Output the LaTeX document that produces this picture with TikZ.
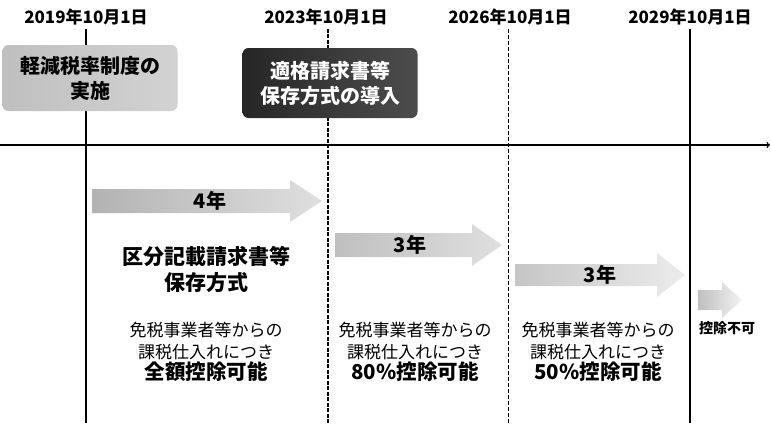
\documentclass[tikz,border=0pt]{standalone}
\usepackage{fontspec}
\setmainfont{Noto Sans CJK JP}
\usetikzlibrary{positioning}
\newcommand{\amount}[1]{{\fontsize{20.5}{20.5}\selectfont\bfseries #1}}

\begin{document}
\begin{tikzpicture}[x=1pt,y=-1pt,
    date/.style={font=\fontsize{17}{17}\selectfont\bfseries},
    eventbox/.style={rounded corners=6pt,minimum width=175pt,align=center,
        font=\fontsize{20}{25}\selectfont\bfseries},
    span/.style={font=\fontsize{20}{20}\selectfont\bfseries},
    note/.style={align=center,font=\fontsize{17}{22}\selectfont},
    big/.style={font=\fontsize{21}{21}\selectfont\bfseries}]
    \useasboundingbox (0,0) rectangle (771,423);
    % dates and vertical lines
    \node[date] (d19) at (86,17) {2019年10月1日};
    \node[date] (d23) at (326,17) {2023年10月1日};
    \node[date] (d26) at (510,17) {2026年10月1日};
    \node[date] (d29) at (690,17) {2029年10月1日};
    \coordinate (b19) at (86,423);
    \coordinate (b23) at (328,423);
    \coordinate (b26) at (508,423);
    \coordinate (b29) at (690,423);
    \draw [line width=1.4pt] (d19.south -| b19) -- (b19);
    \draw [line width=1.3pt,dash pattern=on 4pt off 1.5pt] (d23.south -| b23) -- (b23);
    \draw [line width=1pt,dash pattern=on 4pt off 2pt] (d26.south -| b26) -- (b26);
    \draw [line width=1.4pt] (d29.south -| b29) -- (b29);
    % time axis
    \coordinate (t0) at (0,145);
    \coordinate (t1) at (770,145);
    \draw [->,line width=1.3pt] (t0) -- (t1);
    % events
    \node[eventbox,left color=gray!50,right color=gray!35,minimum height=66pt] (rate) at (90,78) {軽減税率制度の\\実施};
    \node[eventbox,left color=black!85,right color=black!70,text=white,minimum height=70pt] (invoice) at (330,83) {適格請求書等\\保存方式の導入};
    % periods
    \shade[left color=gray!60,right color=gray!25] (92,189) -- (290,189) -- (290,180) -- (322,201)
        -- (290,222) -- (290,213) -- (92,213) -- cycle;
    \node[span] (p1) at (210,201) {4年};
    \shade[left color=gray!50,right color=gray!25] (335,233) -- (472,233) -- (472,224) -- (502,245)
        -- (472,266) -- (472,257) -- (335,257) -- cycle;
    \node[span] (p2) at (410,245) {3年};
    \shade[left color=gray!45,right color=gray!15] (515,264) -- (657,264) -- (657,253) -- (685,275)
        -- (657,297) -- (657,286) -- (515,286) -- cycle;
    \node[span] (p3) at (600,275) {3年};
    \shade[left color=gray!50,right color=gray!10] (698,290) -- (722,290) -- (722,282) -- (742,300)
        -- (722,318) -- (722,310) -- (698,310) -- cycle;
    % rules
    \node[big,align=center] (kubun) at (206,270) {区分記載請求書等\\[5pt]保存方式};
    \node[note] (n1) at (206,352) {免税事業者等からの\\課税仕入れにつき\\[-1pt]\amount{全額控除可能}};
    \node[note] (n2) at (415,352) {免税事業者等からの\\課税仕入れにつき\\[-1pt]\amount{80\%控除可能}};
    \node[note] (n3) at (598,352) {免税事業者等からの\\課税仕入れにつき\\[-1pt]\amount{50\%控除可能}};
    \node[font=\fontsize{14}{14}\selectfont\bfseries] (n4) at (727,328) {控除不可};
\end{tikzpicture}
\end{document}
